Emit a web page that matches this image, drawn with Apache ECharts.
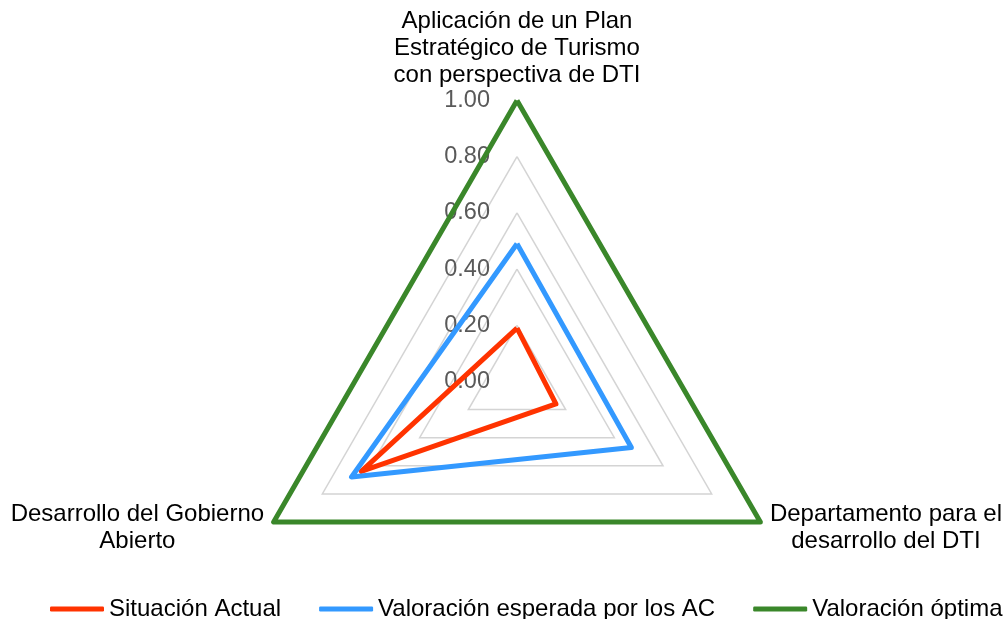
<!DOCTYPE html>
<html>
<head>
<meta charset="utf-8">
<script src="https://cdn.jsdelivr.net/npm/echarts@6/dist/echarts.min.js"></script>
<style>
  html, body { margin: 0; padding: 0; background: #fff; }
  #chart { width: 1007px; height: 619px; }
</style>
</head>
<body>
<div id="chart"></div>
<script>
// Indicators (axes), counter-clockwise from the top
const indicators = [
    'Aplicación de un Plan\nEstratégico de Turismo\ncon perspectiva de DTI',
    'Desarrollo del Gobierno\nAbierto',
    'Departamento para el\ndesarrollo del DTI'
];
const seriesNames = ['Situación Actual', 'Valoración esperada por los AC', 'Valoración óptima'];
const situacionActual = [0.19, 0.64, 0.16];
const valoracionEsperada = [0.49, 0.68, 0.47];
const valoracionOptima = [1.00, 1.00, 1.00];
const colors = ['#FF3300', '#3399FF', '#3A872A'];

const FONT = "'Liberation Sans', Arial, sans-serif";

document.addEventListener('DOMContentLoaded', function() {
    const chart = echarts.init(document.getElementById('chart'));
    const values = [situacionActual, valoracionEsperada, valoracionOptima];

    const option = {
        backgroundColor: '#fff',
        animation: false,
        color: colors,
        legend: {
            left: 45,
            top: 592,
            width: 1000,
            icon: 'roundRect',
            itemWidth: 54,
            itemHeight: 5,
            itemGap: 38,
            textStyle: { fontFamily: FONT, fontSize: 24, color: '#000' },
            data: seriesNames
        },
        radar: {
            center: [517, 381.5],
            radius: 281,
            startAngle: 90,
            shape: 'polygon',
            splitNumber: 5,
            nameGap: 11,
            indicator: indicators.map((name, i) => ({
                name: name,
                min: 0,
                max: 1,
                axisLabel: { show: i === 0 }
            })),
            axisName: {
                color: '#000',
                fontFamily: FONT,
                fontSize: 24,
                lineHeight: 27,
                formatter: name => '{n|' + name + '}',
                rich: {
                    n: { align: 'center', fontFamily: FONT, fontSize: 24, lineHeight: 27, color: '#000' }
                }
            },
            axisLine: { show: false },
            axisTick: { show: false },
            axisLabel: {
                show: false,
                color: '#595959',
                fontFamily: FONT,
                fontSize: 23.5,
                margin: 27,
                formatter: v => v.toFixed(2)
            },
            splitLine: { lineStyle: { color: '#D4D4D4', width: 1.5 } },
            splitArea: { show: false }
        },
        series: [{
            type: 'radar',
            symbol: 'none',
            data: seriesNames.map((name, i) => ({
                name: name,
                value: values[i],
                lineStyle: { color: colors[i], width: 5 },
                itemStyle: { color: colors[i] }
            }))
        }]
    };

    chart.setOption(option);
});
</script>
</body>
</html>
